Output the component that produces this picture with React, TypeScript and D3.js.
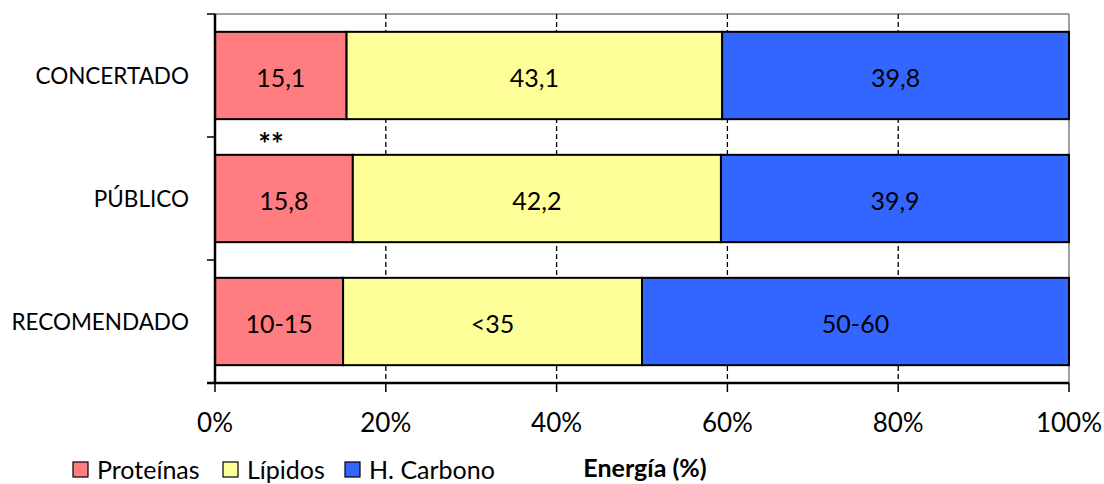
import React from "react";
import * as d3 from "d3";

const categories = ["CONCERTADO", "PÚBLICO", "RECOMENDADO"];
const seriesNames = ["Proteínas", "Lípidos", "H. Carbono"];
const proteinas = [15.1, 15.8, 15];
const lipidos = [43.1, 42.2, 35];
const carbono = [39.8, 39.9, 50];
const proteinasLabels = ["15,1", "15,8", "10-15"];
const lipidosLabels = ["43,1", "42,2", "<35"];
const carbonoLabels = ["39,8", "39,9", "50-60"];
const xTicks = [0, 20, 40, 60, 80, 100];
const colors = ["#FF7C80", "#FFFF99", "#3366FF"];

const FONT = "Lato, 'Open Sans', sans-serif";

export default function App() {
  const W = 1104, H = 484;
  const x = d3.scaleLinear().domain([0, 100]).range([215, 1069]);
  const y = d3.scaleBand<string>().domain(categories).range([14, 383]).paddingInner(0.29).paddingOuter(0.145);
  const series = [proteinas, lipidos, carbono];
  const labels = [proteinasLabels, lipidosLabels, carbonoLabels];

  const rows = categories.map((c, i) => {
    const vals = series.map((s) => s[i]);
    const total = d3.sum(vals);
    let acc = 0;
    return vals.map((v, k) => {
      const x0 = (acc / total) * 100;
      acc += v;
      const x1 = (acc / total) * 100;
      return { c, k, x0, x1, label: labels[k][i] };
    });
  });

  const [y0, y1] = y.range();
  const legendX = [73, 223, 345];

  return (
    <svg width={W} height={H} style={{ position: "absolute", left: 0, top: 0, background: "#fff" }}>
      <line x1={x(0)} x2={x(100)} y1={y0} y2={y0} stroke="#808080" strokeWidth={1.5} />
      <line x1={x(100)} x2={x(100)} y1={y0} y2={y1} stroke="#808080" strokeWidth={1.5} />
      {xTicks.slice(1, -1).map((t) => (
        <line key={t} x1={x(t)} x2={x(t)} y1={y0} y2={y1} stroke="#000" strokeWidth={1.3} strokeDasharray="5,3" />
      ))}
      {rows.map((r) =>
        r.map((s) => (
          <g key={s.c + s.k}>
            <rect x={x(s.x0)} y={y(s.c)!} width={x(s.x1) - x(s.x0)} height={y.bandwidth()} fill={colors[s.k]} stroke="#000" strokeWidth={2} />
            <text x={(x(s.x0) + x(s.x1)) / 2} y={y(s.c)! + y.bandwidth() / 2 + 1} textAnchor="middle" dominantBaseline="central" fontFamily={FONT} fontSize={25} fill="#000">
              {s.label}
            </text>
          </g>
        ))
      )}
      <text x={271} y={(y("CONCERTADO")! + y.bandwidth() + y("PÚBLICO")!) / 2 + 6} textAnchor="middle" dominantBaseline="central" fontFamily={FONT} fontSize={30} fontWeight="bold">
        **
      </text>
      <line x1={x(0)} x2={x(0)} y1={y0} y2={y1 + 1} stroke="#000" strokeWidth={2.5} />
      {[0, 1, 2, 3].map((i) => {
        const yy = y0 + i * y.step();
        return <line key={i} x1={207} x2={x(0)} y1={yy} y2={yy} stroke="#000" strokeWidth={1.5} />;
      })}
      {categories.map((c) => (
        <text key={c} x={189} y={y(c)! + y.bandwidth() / 2} textAnchor="end" dominantBaseline="central" fontFamily={FONT} fontSize={22.5} fill="#000">
          {c}
        </text>
      ))}
      <line x1={x(0) - 8} x2={x(100)} y1={y1} y2={y1} stroke="#000" strokeWidth={2.5} />
      {xTicks.map((t) => (
        <g key={t}>
          <line x1={x(t)} x2={x(t)} y1={y1} y2={y1 + 9} stroke="#000" strokeWidth={1.5} />
          <text x={x(t)} y={422} textAnchor="middle" dominantBaseline="central" fontFamily={FONT} fontSize={26} fill="#000">
            {t}%
          </text>
        </g>
      ))}
      <text x={645} y={467} textAnchor="middle" dominantBaseline="central" fontFamily={FONT} fontSize={25} fontWeight="bold">
        Energía (%)
      </text>
      {seriesNames.map((n, i) => {
        const lx = legendX[i];
        return (
          <g key={n}>
            <rect x={lx} y={462} width={15} height={15} fill={colors[i]} stroke="#000" strokeWidth={1.2} />
            <text x={lx + 24} y={469} dominantBaseline="central" fontFamily={FONT} fontSize={25} fill="#000">
              {n}
            </text>
          </g>
        );
      })}
    </svg>
  );
}
